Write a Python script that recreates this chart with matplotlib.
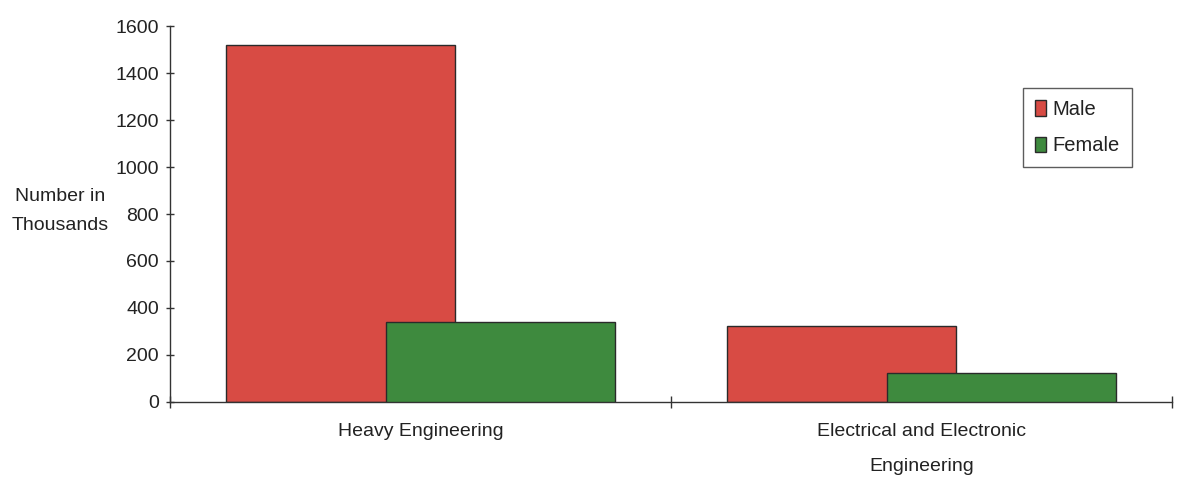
import matplotlib
matplotlib.use("Agg")
import matplotlib.pyplot as plt
import numpy as np

categories = ["Heavy Engineering", "Electrical and Electronic\nEngineering"]
series_names = ["Male", "Female"]
male = [1520, 325]
female = [340, 122]
y_ticks = [0, 200, 400, 600, 800, 1000, 1200, 1400, 1600]

plt.rcParams["font.family"] = ["Liberation Sans", "DejaVu Sans"]

fig = plt.figure(figsize=(11.82, 4.78), dpi=100)
ax = fig.add_axes([0.1438, 0.159, 0.8476, 0.7866])

x = np.arange(len(categories))
width = 0.458
offset = 0.16
red = "#D84B44"
green = "#3E8A3E"
edge = "#2a2a2a"
text_color = "#222222"

ax.bar(x - offset, male, width, color=red, edgecolor=edge, linewidth=1.0,
       label=series_names[0], zorder=2)
ax.bar(x + offset, female, width, color=green, edgecolor=edge, linewidth=1.0,
       label=series_names[1], zorder=3)

ax.set_xlim(-0.5, len(categories) - 0.5)
ax.set_ylim(0, 1600)
ax.set_yticks(y_ticks)
ax.set_yticklabels([str(v) for v in y_ticks], fontsize=14, color=text_color)

# Category labels sit between the boundary ticks
ax.set_xticks(np.arange(-0.5, len(categories)), minor=False)
ax.set_xticklabels([])
ax.set_xticks(x, minor=True)
ax.set_xticklabels(categories, minor=True, fontsize=14, color=text_color,
                   linespacing=2.4)
ax.tick_params(axis="x", which="minor", length=0, pad=15)
ax.tick_params(axis="x", which="major", direction="inout", length=8,
               width=1, color="#333333")
ax.tick_params(axis="y", direction="inout", length=6, width=1,
               color="#333333", pad=5)

for s in ["top", "right"]:
    ax.spines[s].set_visible(False)
for s in ["left", "bottom"]:
    ax.spines[s].set_color("#333333")
    ax.spines[s].set_linewidth(1.0)

fig.text(0.051, 0.558, "Number in\nThousands", ha="center", va="center",
         fontsize=14, color=text_color, linespacing=1.95)

leg = ax.legend(loc="upper left", bbox_to_anchor=(0.851, 0.835),
                fontsize=14.5, frameon=True, fancybox=False,
                handlelength=0.55, handleheight=0.8, handletextpad=0.35,
                borderpad=0.6, labelspacing=0.85, borderaxespad=0)
leg.get_frame().set_edgecolor("#333333")
leg.get_frame().set_linewidth(1.0)
for t in leg.get_texts():
    t.set_color(text_color)

fig.savefig("out.png", dpi=100, facecolor="white")
